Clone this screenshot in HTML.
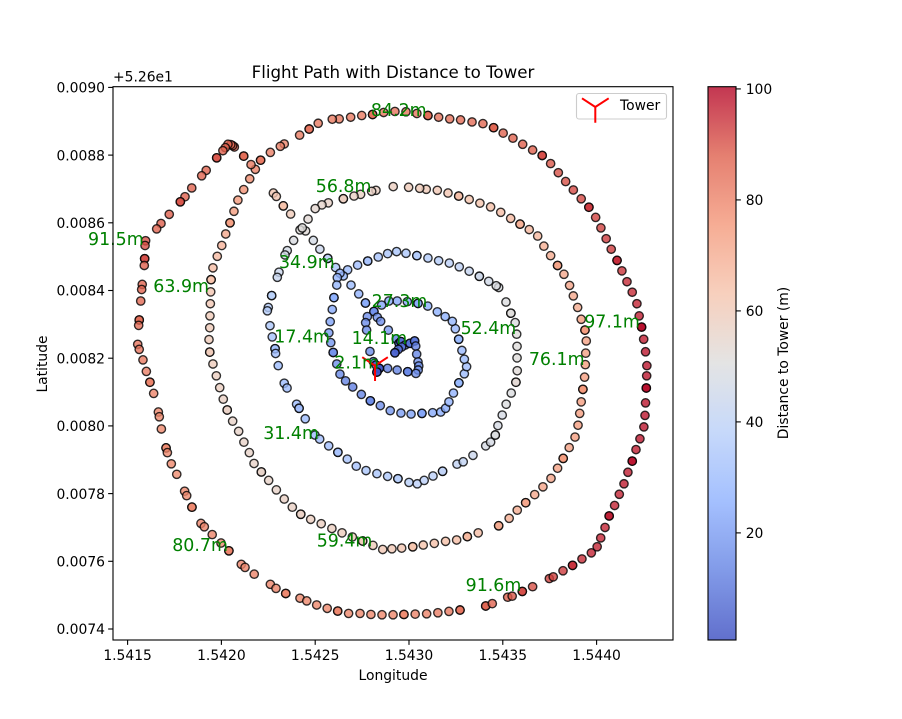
<!DOCTYPE html>
<html lang="en">
<head>
<meta charset="utf-8">
<title>Flight Path with Distance to Tower</title>
<style>
html,body{margin:0;padding:0;background:#fff;}
body{width:902px;height:719px;overflow:hidden;}
svg{display:block;font-family:"DejaVu Sans","Liberation Sans",sans-serif;}
</style>
</head>
<body>
<svg id="chart" xmlns="http://www.w3.org/2000/svg" width="902" height="719" viewBox="0 0 902 719">
  <rect x="0" y="0" width="902" height="719" fill="#fff"/>
  <defs>
    <linearGradient id="cbar-gradient" x1="0" y1="1" x2="0" y2="0"></linearGradient>
  </defs>
  <text x="393" y="78" font-size="16.67" text-anchor="middle" fill="#000">Flight Path with Distance to Tower</text>
  <text x="393" y="680" font-size="13.89" text-anchor="middle" fill="#000">Longitude</text>
  <text transform="translate(47 364) rotate(-90)" font-size="13.89" text-anchor="middle" fill="#000">Latitude</text>
  <text x="113" y="81.7" font-size="13.89" fill="#000">+5.26e1</text>
  <g id="points"></g>
  <g id="tower"></g>
  <g id="labels"></g>
  <g id="axes"></g>
  <g>
    <rect x="576.5" y="93.5" width="90" height="25.5" rx="2.5" fill="#fff" fill-opacity="0.8" stroke="#ccc" stroke-width="1.1"/>
    <path d="M595.3 107 L595.3 122.7 M595.3 107 L582 98.3 M595.3 107 L608.7 98.3" fill="none" stroke="#ff0000" stroke-width="2"/>
    <text x="620" y="110" font-size="13.89" fill="#000">Tower</text>
  </g>
  <g id="colorbar"></g>
  <text transform="translate(788 363) rotate(-90)" font-size="13.89" text-anchor="middle" fill="#000">Distance to Tower (m)</text>
</svg>
<script>
/* Data. Positions are micro-degree offsets from the bases below. */
const lonBase = 1.5415;
const latBase = 0.0074;
const lonMicro = [
96,93,91,89,78,75,70,62,59,54,
62,82,100,119,139,164,169,180,205,212,
233,262,304,315,343,391,409,451,498,540,
606,626,675,761,791,843,919,955,1008,1064,
1120,1178,1239,1297,1356,1415,1473,1533,1594,1654,
1713,1772,1909,1944,2026,2050,2104,2159,2248,2269,
2321,2372,2422,2472,2503,2522,2545,2567,2596,2621,
2646,2667,2690,2710,2731,2752,2758,2761,2765,2767,
2768,2761,2751,2740,2727,2715,2690,2662,2635,2609,
2578,2551,2523,2495,2459,2418,2376,2335,2296,2255,
2210,2159,2106,2054,2002,1951,1894,1836,1775,1717,
1658,1601,1542,1484,1425,1365,1306,1248,1189,1128,
1091,1016,968,917,835,814,761,709,681,658,
619,569,560,550,535,521,508,475,419,395,
342,306,281,222,178,155,
651,619,588,567,546,523,502,478,455,445,
443,441,439,438,434,438,455,473,491,510,
531,560,592,620,649,674,713,752,793,835,
878,923,976,1032,1089,1143,1198,1253,1308,1360,
1409,1461,1520,1576,1635,1695,1754,1811,1869,1978,
2034,2077,2122,2170,2214,2257,2292,2322,2354,2385,
2401,2410,2418,2427,2436,2440,2442,2445,2438,2418,
2399,2376,2356,2326,2292,2255,2219,2186,2141,2092,
2042,1989,1935,1878,1821,1765,1708,1651,1592,1557,
1498,1416,1324,1301,1242,1207,1150,1070,1036,1000,
962,
777,793,830,869,949,990,1025,1067,1109,1191,
1232,1268,
919,931,885,851,839,807,798,768,750,745,
759,771,786,789,803,835,850,901,914,947,
999,1024,1072,1121,1171,1219,1271,1329,1386,1441,
1500,1544,1581,1628,1679,1756,1789,1841,1909,1935,
1960,1974,1997,2018,2045,2070,2077,2076,2076,2074,
2066,2043,2017,1978,1965,1925,1875,1821,1768,1715,
1658,1601,1542,1484,1434,1386,1336,1280,1226,1173,
1150,1132,1118,1115,1100,1091,1080,1073,1083,1096,
1115,1132,1162,1200,1246,1294,1347,1400,1457,1511,
1569,1626,1669,1695,1713,1737,1766,1795,1807,1795,
1782,1765,1747,1731,1693,1651,1600,1548,1491,1437,
1393,1354,1313,1331,1349,1278,1269,1274,1390,1432,
1447,1457,1480,1505,1530,1536,1541,1548,1552,1549,
1537,1493,1437,1386,1461,1443,1425,1292,1310,1324,
1342,1329
];
const latMicro = [
1147,1133,1094,1074,1018,1003,969,913,897,841,
826,795,761,729,696,641,627,591,535,521,
488,457,407,394,360,312,302,279,254,231,
191,182,162,132,120,105,91,83,71,61,
53,46,46,43,42,42,43,44,45,48,
52,56,68,75,94,97,111,125,149,154,
172,188,207,225,243,269,300,334,365,398,
429,463,496,530,562,597,631,668,712,748,
778,819,856,892,925,961,995,1026,1058,1089,
1122,1153,1185,1216,1246,1271,1297,1322,1348,1375,
1399,1415,1432,1450,1465,1481,1493,1498,1504,1507,
1512,1517,1523,1528,1529,1526,1520,1517,1512,1507,
1506,1494,1477,1459,1433,1426,1408,1385,1358,1372,
1397,1424,1428,1431,1432,1422,1413,1392,1355,1339,
1303,1277,1262,1225,1198,1182,
1330,1298,1267,1234,1200,1167,1133,1101,1067,1032,
996,961,925,890,855,818,783,748,713,679,
647,614,584,552,521,489,464,439,411,384,
360,339,324,311,297,284,272,260,247,235,
237,239,243,248,253,259,263,273,284,305,
327,351,373,397,420,445,475,504,536,567,
602,637,671,708,744,781,815,851,883,915,
950,984,1015,1048,1074,1103,1131,1161,1180,1196,
1213,1231,1247,1258,1269,1279,1288,1296,1299,1302,
1305,1307,1296,1293,1284,1279,1271,1259,1253,1242,
1211,
1288,1278,1250,1226,1176,1148,1122,1095,1068,1016,
990,963,
1179,1185,1148,1118,1105,1054,1039,985,950,940,
896,863,828,814,778,726,712,664,652,621,
573,561,541,522,502,481,468,459,451,444,
433,429,439,452,466,487,494,513,541,552,
573,601,632,664,697,729,763,801,835,871,
905,933,966,1009,1014,1027,1042,1057,1070,1081,
1088,1096,1103,1110,1115,1109,1099,1087,1075,1061,
1043,1051,1038,1016,979,944,908,875,846,817,
783,753,733,715,693,674,660,645,638,635,
637,639,641,652,671,697,727,754,775,797,
823,856,887,909,923,937,954,962,967,969,
969,957,938,921,909,923,905,883,883,857,
844,849,839,844,851,836,812,789,777,765,
755,760,765,770,833,826,816,820,790,780,
770,759
];
const distanceM = [
90,90,91,88,87,87,86,86,85,83,
83,82,81,81,80,79,79,79,79,79,
79,78,79,79,80,80,80,80,79,81,
80,80,80,80,80,80,79,79,79,79,
80,79,79,79,79,79,79,80,80,81,
82,84,88,87,88,89,91,90,92,92,
93,95,95,96,96,96,96,98,96,96,
97,97,99,97,98,98,98,98,100,98,
98,98,97,100,97,96,95,95,94,96,
93,93,92,92,94,91,91,90,90,89,
91,88,88,87,87,88,86,85,85,84,
84,86,83,83,83,83,85,82,82,82,
82,82,84,82,80,81,81,83,80,82,
86,87,87,87,87,88,88,90,87,87,
87,88,90,88,88,87,
78,77,75,74,74,71,68,66,65,64,
62,61,60,60,60,60,59,58,58,57,
57,56,56,56,56,56,56,56,56,57,
57,57,58,58,58,59,59,60,60,61,
61,62,63,63,64,64,65,67,65,71,
69,70,72,71,72,72,73,75,73,74,
74,74,74,76,74,74,73,73,75,74,
70,71,72,71,73,70,69,67,67,69,
66,65,64,63,63,65,62,61,60,60,
60,58,57,57,57,57,58,56,55,54,
53,
62,62,64,60,52,47,44,40,34,30,
27,24,
51,51,49,47,47,44,43,38,37,37,
35,33,32,31,30,30,30,30,31,30,
30,31,31,33,33,33,34,34,35,37,
38,39,39,39,40,41,41,44,48,48,
50,48,48,50,50,53,52,51,51,51,
50,51,50,49,49,46,45,42,40,39,
37,36,36,35,34,34,33,33,31,30,
28,27,27,28,25,24,22,20,19,17,
17,15,14,13,14,15,17,19,21,22,
22,24,25,25,27,27,28,30,31,30,
29,28,29,28,26,26,25,24,24,24,
24,23,17,18,17,17,16,16,20,13,
8,9,10,10,10,13,15,18,18,18,
17,14,14,12,9,8,6,16,5,3,
2,2
];
/* 1-based sample numbers where the drone logged two fixes at the same spot */
const doubleFixes = [3,8,14,19,25,30,36,41,47,52,53,57,62,68,73,79,84,90,95,101,106,112,117,123,128,131,138,143,151,156,162,167,173,178,184,189,194,196,199,204,210,215,221,226,232,243,250,255,259,267,272,278,283,289,294,300,305,311,316,322,327,334,339,345,350,356,361,367,372,380,381,383,384,391,396,400,401];

const towerLonMicro = 1319;
const towerLatMicro = 778;

const labelDistances = [84.2,56.8,91.5,63.9,34.9,17.4,27.3,14.1,2.1,52.4,76.1,97.1,31.4,80.7,59.4,91.6];
const labelLonMicro = [1297,1003,-211,137,807,782,1301,1194,1102,1775,2139,2434,723,238,1008,1802];
const labelLatMicro = [1515,1291,1134,996,1066,846,952,842,770,871,780,890,561,230,244,112];

const xTickValues = [1.5415,1.5420,1.5425,1.5430,1.5435,1.5440];
const xTickLabels = ['1.5415','1.5420','1.5425','1.5430','1.5435','1.5440'];
const yTickValues = [0.0074,0.0076,0.0078,0.0080,0.0082,0.0084,0.0086,0.0088,0.0090];
const yTickLabels = ['0.0074','0.0076','0.0078','0.0080','0.0082','0.0084','0.0086','0.0088','0.0090'];
const cbarTickValues = [20,40,60,80,100];
const cbarTickLabels = ['20','40','60','80','100'];

const xDomain = [1.5414222, 1.5444073];
const yDomain = [0.0073675, 0.0090021];
const colorDomain = [0.7, 100.4];

const SVG_NS = 'http://www.w3.org/2000/svg';
const plot = {left:113, right:673, top:86.7, bottom:640};
const cbar = {left:708, right:736, top:86.7, bottom:640};

function xScale(lon){ return plot.left + (lon - xDomain[0]) / (xDomain[1] - xDomain[0]) * (plot.right - plot.left); }
function yScale(lat){ return plot.bottom - (lat - yDomain[0]) / (yDomain[1] - yDomain[0]) * (plot.bottom - plot.top); }
function cScale(v){ return cbar.bottom - (v - colorDomain[0]) / (colorDomain[1] - colorDomain[0]) * (cbar.bottom - cbar.top); }
function lonOf(m){ return lonBase + m * 1e-6; }
function latOf(m){ return latBase + m * 1e-6; }

const coolwarmStops = [[58,76,192],[98,129,226],[141,176,254],[184,207,249],[221,221,221],[245,196,173],[244,152,122],[222,96,77],[180,4,38]];
function coolwarm(t){
  t = Math.max(0, Math.min(1, t));
  const p = t * (coolwarmStops.length - 1);
  const i = Math.min(Math.floor(p), coolwarmStops.length - 2);
  const f = p - i;
  const a = coolwarmStops[i], b = coolwarmStops[i + 1];
  return 'rgb(' + [0,1,2].map(function(k){ return Math.round(a[k] + (b[k] - a[k]) * f); }).join(',') + ')';
}
function colorOf(v){ return coolwarm((v - colorDomain[0]) / (colorDomain[1] - colorDomain[0])); }
function make(tag, attrs){
  const el = document.createElementNS(SVG_NS, tag);
  Object.keys(attrs).forEach(function(k){ el.setAttribute(k, attrs[k]); });
  return el;
}

/* scatter points */
const pointsGroup = document.getElementById('points');
function drawPoint(i){
  const c = make('circle', {cx:xScale(lonOf(lonMicro[i])).toFixed(2), cy:yScale(latOf(latMicro[i])).toFixed(2), r:4.17, fill:colorOf(distanceM[i]), 'fill-opacity':0.8, stroke:'#000', 'stroke-opacity':0.8, 'stroke-width':1.39});
  
  
  pointsGroup.appendChild(c);
}
for (let i = 0; i < lonMicro.length; i++) {
  drawPoint(i);
  if (doubleFixes.indexOf(i + 1) !== -1) drawPoint(i);
}

/* tower marker */
const towerGroup = document.getElementById('tower');
const tx = xScale(lonOf(towerLonMicro)), ty = yScale(latOf(towerLatMicro));
const towerPath = make('path', {d:'M'+tx+' '+ty+' L'+tx+' '+(ty+15.3)+' M'+tx+' '+ty+' L'+(tx-12.8)+' '+(ty-8.5)+' M'+tx+' '+ty+' L'+(tx+12.8)+' '+(ty-8.5), fill:'none', stroke:'#ff0000', 'stroke-width':2});


towerGroup.appendChild(towerPath);

/* distance annotations */
const labelsGroup = document.getElementById('labels');
labelDistances.forEach(function(d, i){
  const t = make('text', {x:xScale(lonOf(labelLonMicro[i])).toFixed(2), y:yScale(latOf(labelLatMicro[i])).toFixed(2), 'font-size':17.4, fill:'#008000'});
  
  
  t.textContent = d.toFixed(1) + 'm';
  labelsGroup.appendChild(t);
});

/* axes */
const axesGroup = document.getElementById('axes');
const frame = make('rect', {x:plot.left, y:plot.top, width:plot.right-plot.left, height:plot.bottom-plot.top, fill:'none', stroke:'#000', 'stroke-width':1.11});


axesGroup.appendChild(frame);
xTickValues.forEach(function(v, i){
  const x = xScale(v);
  const tick = make('line', {x1:x, x2:x, y1:plot.bottom, y2:plot.bottom+4.86, stroke:'#000', 'stroke-width':1.11});
  
  
  axesGroup.appendChild(tick);
  const label = make('text', {x:x, y:660, 'font-size':13.89, 'text-anchor':'middle', fill:'#000'});
  
  
  label.textContent = xTickLabels[i];
  axesGroup.appendChild(label);
});
yTickValues.forEach(function(v, i){
  const y = yScale(v);
  const tick = make('line', {x1:plot.left-4.86, x2:plot.left, y1:y, y2:y, stroke:'#000', 'stroke-width':1.11});
  
  
  axesGroup.appendChild(tick);
  const label = make('text', {x:plot.left-8, y:y+5.2, 'font-size':13.89, 'text-anchor':'end', fill:'#000'});
  
  
  label.textContent = yTickLabels[i];
  axesGroup.appendChild(label);
});

/* colorbar */
const gradient = document.getElementById('cbar-gradient');
for (let s = 0; s <= 64; s++) {
  const stop = make('stop', {offset:(s / 64), 'stop-color':coolwarm(s / 64), 'stop-opacity':0.8});
  gradient.appendChild(stop);
}
const cbarGroup = document.getElementById('colorbar');
const cbarFill = make('rect', {x:cbar.left, y:cbar.top, width:cbar.right-cbar.left, height:cbar.bottom-cbar.top, fill:'url(#cbar-gradient)'});


cbarGroup.appendChild(cbarFill);
const cbarFrame = make('rect', {x:cbar.left, y:cbar.top, width:cbar.right-cbar.left, height:cbar.bottom-cbar.top, fill:'none', stroke:'#000', 'stroke-width':1.11});


cbarGroup.appendChild(cbarFrame);
cbarTickValues.forEach(function(v, i){
  const y = cScale(v);
  const tick = make('line', {x1:cbar.right, x2:cbar.right+4.86, y1:y, y2:y, stroke:'#000', 'stroke-width':1.11});
  
  
  cbarGroup.appendChild(tick);
  const label = make('text', {x:cbar.right+9.7, y:y+5.2, 'font-size':13.89, fill:'#000'});
  
  
  label.textContent = cbarTickLabels[i];
  cbarGroup.appendChild(label);
});
</script>
</body>
</html>
